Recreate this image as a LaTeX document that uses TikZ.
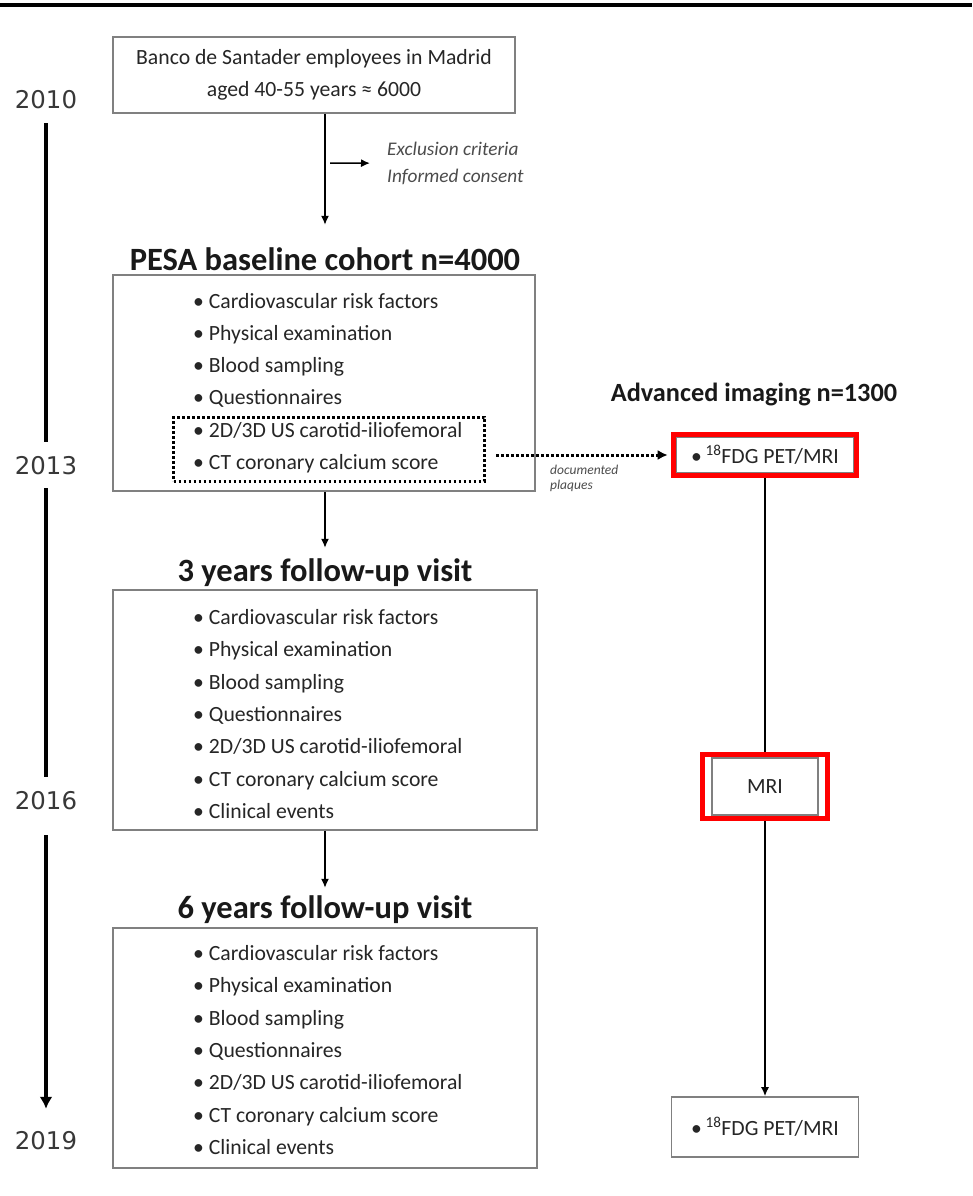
\documentclass[tikz,border=0pt]{standalone}
\usepackage{fontspec}
\setmainfont{Carlito}
\newfontfamily\yearfont{DejaVu Sans}
\usetikzlibrary{arrows.meta,fit}
\definecolor{boxgray}{rgb}{0.50,0.50,0.50}
\definecolor{inktext}{rgb}{0.15,0.15,0.15}
\definecolor{notegray}{rgb}{0.30,0.30,0.30}
\definecolor{yeartext}{rgb}{0.22,0.22,0.22}
\tikzset{
  panel/.style = {draw = boxgray, line width = 1.6pt, fill = white, inner sep = 0pt, text = inktext},
  items/.style = {align = left, inner sep = 0pt, text = inktext, font = \fontsize{21.7}{32.3}\selectfont},
  heading/.style = {font = \bfseries\fontsize{32.5}{38}\selectfont, inner sep = 0pt, text height = 22pt, text depth = 6pt, text = black!90},
  year/.style = {font = \yearfont\fontsize{24.4}{28}\selectfont, text = yeartext, inner xsep = 0pt, inner ysep = 14pt, text height = 18pt, text depth = 0pt},
  timeline/.style = {line width = 4.5pt, draw = black},
  arr/.style = {line width = 1.5pt, -{Latex[length = 9pt, width = 8pt]}},
  dotbox/.style = {draw = black, line width = 3pt, dash pattern = on 2.6pt off 2.4pt, inner sep = 0pt},
  redframe/.style = {draw = red, line width = 5pt},
  note/.style = {align = left, inner sep = 0pt, text = notegray}
}
\begin{document}
\begin{tikzpicture}[x = 1pt, y = -1pt]
\useasboundingbox (0,0) rectangle (972,1196);
\fill[white] (0,0) rectangle (972,1196);
\draw[line width = 3.5pt] (0,5) -- (972,5);
\foreach \yr/\ypos in {2010/100, 2013/465, 2016/800, 2019/1140} \node[year] (y\yr) at (46,\ypos) {\yr};
\draw[timeline] (y2010) -- (y2013);
\draw[timeline] (y2013) -- (y2016);
\draw[timeline, shorten <= 12pt, shorten >= 8pt, -{Latex[length = 12pt, width = 13pt]}] (y2016) -- (y2019);
\node[panel, minimum width = 402pt, minimum height = 76pt, align = center, font = \fontsize{21.7}{32}\selectfont] (start) at (314,75) {Banco de Santader employees in Madrid\\aged 40-55 years ≈ 6000};
\node[note, anchor = west, font = \itshape\fontsize{19.3}{27}\selectfont] (excl) at (387,163.5) {Exclusion criteria\\Informed consent};
\coordinate (side) at (330,163);
\node[heading] (base) at (325,262) {PESA baseline cohort n=4000};
\draw[arr, shorten >= 23pt] (base |- start.south) -- (base);
\draw[arr, shorten >= 17pt] (side) -- (excl);
\node[panel, minimum width = 422pt, minimum height = 216pt] (visit0) at (324,383) {};
\node[items, anchor = west] (list0) at (193,383) {• Cardiovascular risk factors\\• Physical examination\\• Blood sampling\\• Questionnaires\\• 2D/3D US carotid-iliofemoral\\• CT coronary calcium score};
\node[dotbox, minimum width = 311pt, minimum height = 64pt] (us0) at (329,449) {};
\node[heading] (three) at (325,573) {3 years follow-up visit};
\draw[arr, shorten >= 11pt] (three |- visit0.south) -- (three);
\node[panel, minimum width = 424pt, minimum height = 240pt] (visit3) at (325,710) {};
\node[items, anchor = west] (list3) at (193,714) {• Cardiovascular risk factors\\• Physical examination\\• Blood sampling\\• Questionnaires\\• 2D/3D US carotid-iliofemoral\\• CT coronary calcium score\\• Clinical events};
\node[heading] (six) at (325,910) {6 years follow-up visit};
\draw[arr, shorten >= 8pt] (six |- visit3.south) -- (six);
\node[panel, minimum width = 424pt, minimum height = 240pt] (visit6) at (325,1048) {};
\node[items, anchor = west] (list6) at (193,1050) {• Cardiovascular risk factors\\• Physical examination\\• Blood sampling\\• Questionnaires\\• 2D/3D US carotid-iliofemoral\\• CT coronary calcium score\\• Clinical events};
\node[heading, font = \bfseries\fontsize{26.3}{30}\selectfont, text height = 18pt, text depth = 5pt] (adv) at (754,395) {Advanced imaging n=1300};
\node[panel, minimum width = 178pt, minimum height = 35pt, font = \fontsize{21.7}{26}\selectfont] (pet0) at (765,455) {•\,\textsuperscript{18}FDG PET/MRI};
\node[panel, minimum width = 106pt, minimum height = 57pt, font = \fontsize{21.7}{26}\selectfont] (mri) at (765,786.5) {MRI};
\node[panel, minimum width = 187pt, minimum height = 60pt, font = \fontsize{21.7}{26}\selectfont] (pet1) at (765,1127) {•\,\textsuperscript{18}FDG PET/MRI};
\draw[line width = 1.5pt] (pet0) -- (mri);
\draw[arr] (mri) -- (pet1);
\node[redframe, fit = (pet0), inner sep = 2pt] (pet0mark) {};
\node[redframe, fit = (mri), inner xsep = 9pt, inner ysep = 2.5pt] (mrimark) {};
\draw[dotbox, shorten <= 10pt, shorten >= 3pt, -{Latex[length = 10pt, width = 10pt]}] (us0.east |- pet0mark) -- (pet0mark);
\node[note, anchor = west, font = \itshape\fontsize{13.5}{14.5}\selectfont] (plaq) at (550,478.5) {documented\\plaques};
\end{tikzpicture}
\end{document}
